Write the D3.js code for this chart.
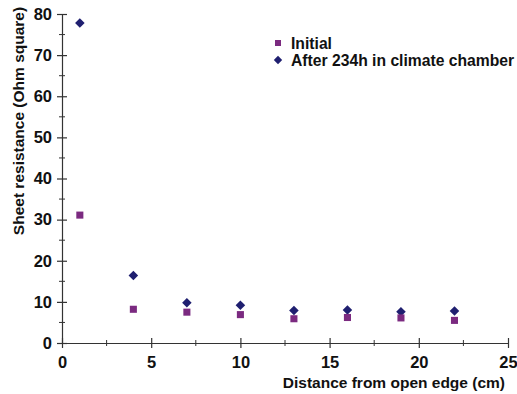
<!DOCTYPE html>
<html>
<head>
<meta charset="utf-8">
<script src="https://cdn.jsdelivr.net/npm/d3@7"></script>
<style>
  html, body { margin: 0; padding: 0; background: #fff; }
  svg text { font-family: "Liberation Sans", Arial, sans-serif; font-weight: bold; fill: #111; }
</style>
</head>
<body>
<svg id="chart" width="517" height="394"></svg>
<script>
// distances (cm)
const distances = [1, 4, 7, 10, 13, 16, 19, 22];
// sheet resistance values (Ohm square)
const initialValues = [31.1, 8.2, 7.5, 6.9, 5.9, 6.2, 6.1, 5.5];
const agedValues = [77.8, 16.4, 9.8, 9.2, 7.9, 8.0, 7.6, 7.8];
const seriesNames = ['Initial', 'After 234h in climate chamber'];
const xTicks = [0, 5, 10, 15, 20, 25];
const yTicks = [0, 10, 20, 30, 40, 50, 60, 70, 80];

const INITIAL_COLOR = '#7b2a80';
const AGED_COLOR = '#1f1f70';

const svg = d3.select('#chart');
const margin = { top: 14, right: 9, bottom: 51, left: 62 };
const width = 517 - margin.left - margin.right;
const height = 394 - margin.top - margin.bottom;

const g = svg.append('g')
  .attr('transform', `translate(${margin.left},${margin.top})`);

const xScale = d3.scaleLinear().domain([0, 25]).range([0, width]);
const yScale = d3.scaleLinear().domain([0, 80]).range([height, 0]);

// minor ticks (crossing the axis)
const xMinor = d3.range(2.5, 25, 5);
const yMinor = d3.range(5, 80, 10);

g.selectAll('.xminor')
  .data(xMinor)
  .enter()
  .append('line')
  .attr('x1', (d) => xScale(d))
  .attr('x2', (d) => xScale(d))
  .attr('y1', height - 3)
  .attr('y2', height + 3)
  .attr('stroke', '#333')
  .attr('stroke-width', 1);

g.selectAll('.yminor')
  .data(yMinor)
  .enter()
  .append('line')
  .attr('x1', -3)
  .attr('x2', 3)
  .attr('y1', (d) => yScale(d))
  .attr('y2', (d) => yScale(d))
  .attr('stroke', '#333')
  .attr('stroke-width', 1);

// Axes
const xAxis = g.append('g')
  .attr('transform', `translate(0,${height})`)
  .call(d3.axisBottom(xScale).tickValues(xTicks).tickSize(5).tickPadding(8).tickSizeOuter(0));

const yAxis = g.append('g')
  .call(d3.axisLeft(yScale).tickValues(yTicks).tickSize(5).tickPadding(5).tickSizeOuter(0));

[xAxis, yAxis].forEach((ax) => {
  ax.select('.domain').attr('stroke', '#333').attr('stroke-width', 1.2);
  ax.selectAll('.tick line').attr('stroke', '#333').attr('stroke-width', 1.2);
  ax.selectAll('.tick text').style('font-size', '16.5px').attr('fill', '#111');
});

// major ticks extend to the other side as well
xAxis.selectAll('.tick line').attr('y1', -5);
yAxis.selectAll('.tick line').attr('x1', 5);

// Axis titles
svg.append('text')
  .attr('x', 505)
  .attr('y', 388)
  .attr('text-anchor', 'end')
  .style('font-size', '15.5px')
  .text('Distance from open edge (cm)');

svg.append('text')
  .attr('transform', 'translate(24,121) rotate(-90)')
  .attr('text-anchor', 'middle')
  .style('font-size', '15.5px')
  .text('Sheet resistance (Ohm square)');

// Points
const diamond = d3.symbol().type(d3.symbolDiamond2).size(58);
const square = d3.symbol().type(d3.symbolSquare).size(50);

g.selectAll('.aged')
  .data(distances)
  .enter()
  .append('path')
  .attr('transform', (d, i) => `translate(${xScale(d)},${yScale(agedValues[i])})`)
  .attr('d', diamond)
  .attr('fill', AGED_COLOR);

g.selectAll('.initial')
  .data(distances)
  .enter()
  .append('path')
  .attr('transform', (d, i) => `translate(${xScale(d)},${yScale(initialValues[i])})`)
  .attr('d', square)
  .attr('fill', INITIAL_COLOR);

// Legend
const legend = svg.append('g').attr('transform', 'translate(278,43)');
legend.append('path')
  .attr('d', d3.symbol().type(d3.symbolSquare).size(36))
  .attr('fill', INITIAL_COLOR);
legend.append('text')
  .attr('x', 13)
  .attr('y', 5.5)
  .style('font-size', '15.7px')
  .text(seriesNames[0]);
legend.append('path')
  .attr('transform', 'translate(0,17)')
  .attr('d', d3.symbol().type(d3.symbolDiamond2).size(45))
  .attr('fill', AGED_COLOR);
legend.append('text')
  .attr('x', 13)
  .attr('y', 22.5)
  .style('font-size', '15.7px')
  .text(seriesNames[1]);
</script>
</body>
</html>
